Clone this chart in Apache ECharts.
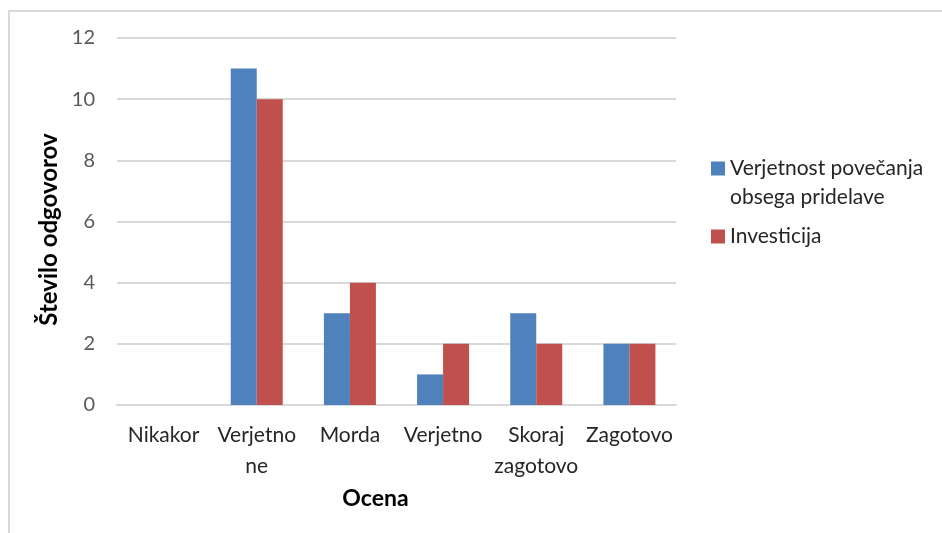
<!DOCTYPE html>
<html>
<head>
<meta charset="utf-8">
<script src="https://cdn.jsdelivr.net/npm/echarts@6/dist/echarts.min.js"></script>
<style>
  html, body { margin: 0; padding: 0; background: #fff; }
  #frame { position: absolute; left: 8px; top: 10px; width: 934px; height: 523px;
           border-top: 2px solid #d9d9d9; border-left: 2px solid #d9d9d9; box-sizing: border-box; }
  #container { position: absolute; left: 0; top: 0; width: 942px; height: 533px; }
</style>
</head>
<body>
<div id="frame"></div>
<div id="container"></div>
<script>
var categories = ['Nikakor', 'Verjetno\nne', 'Morda', 'Verjetno', 'Skoraj\nzagotovo', 'Zagotovo'];
var seriesNames = ['Verjetnost povečanja obsega pridelave', 'Investicija'];
var verjetnost = [0, 11, 3, 1, 3, 2];
var investicija = [0, 10, 4, 2, 2, 2];

var font = 'Lato, "Open Sans", sans-serif';
var colors = { blue: '#4f81bd', red: '#c0504d', grid: '#d9d9d9' };

var myChart = echarts.init(document.getElementById('container'));

var option = {
    animation: false,
    textStyle: { fontFamily: font },
    grid: { left: 117, right: 266, top: 38, bottom: 128 },
    legend: {
        orient: 'vertical',
        left: 711,
        top: 125,
        padding: 0,
        itemWidth: 14,
        itemHeight: 14,
        itemGap: 10,
        icon: 'rect',
        textStyle: { fontFamily: font, fontSize: 21, color: '#262626', lineHeight: 29 },
        // empty first line keeps the square next to the first line of the wrapped name
        formatter: function(name) {
            return name === seriesNames[0] ? ' \nVerjetnost povečanja\nobsega pridelave' : name;
        },
        data: seriesNames
    },
    xAxis: {
        type: 'category',
        data: categories,
        name: 'Ocena',
        nameLocation: 'middle',
        nameGap: 81,
        nameTextStyle: { fontFamily: font, fontSize: 23, fontWeight: 'bold', color: '#000', padding: [0, 42, 0, 0] },
        axisLine: { lineStyle: { color: colors.grid, width: 2 } },
        axisTick: { show: false },
        axisLabel: { fontFamily: font, fontSize: 21, color: '#262626', lineHeight: 31, margin: 15, interval: 0 }
    },
    yAxis: {
        type: 'value',
        min: 0,
        max: 12,
        interval: 2,
        name: 'Število odgovorov',
        nameLocation: 'middle',
        nameGap: 54,
        nameTextStyle: { fontFamily: font, fontSize: 24, fontWeight: 'bold', color: '#000', padding: [0, 16, 0, 0] },
        axisLine: { show: false },
        axisTick: { show: false },
        splitLine: { lineStyle: { color: colors.grid, width: 2 } },
        axisLabel: { fontFamily: font, fontSize: 20, color: '#595959', margin: 22 }
    },
    series: [{
        name: seriesNames[0],
        type: 'bar',
        data: verjetnost,
        barWidth: 26,
        barGap: '0%',
        itemStyle: { color: colors.blue }
    }, {
        name: seriesNames[1],
        type: 'bar',
        data: investicija,
        barWidth: 26,
        barGap: '0%',
        itemStyle: { color: colors.red }
    }]
};

myChart.setOption(option);
</script>
</body>
</html>
